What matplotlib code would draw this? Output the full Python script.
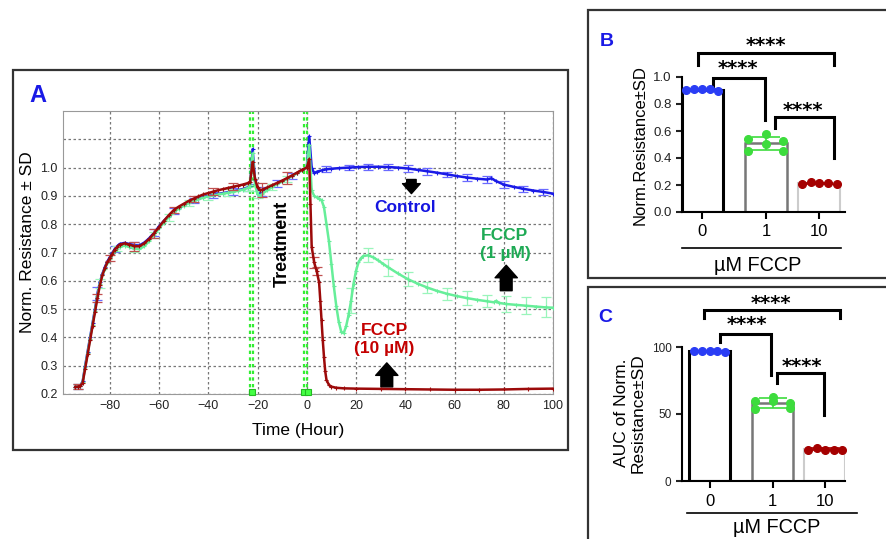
import matplotlib
matplotlib.use("Agg")
import matplotlib.pyplot as plt
import numpy as np
from matplotlib.patches import Rectangle
from matplotlib.lines import Line2D

plt.rcParams['font.family'] = ['Liberation Sans', 'DejaVu Sans']

# ---------------- data: panel A (normalised resistance vs time) ----------------
pre_t = [-94, -93, -92, -91, -90, -89, -88, -87, -86, -85, -84, -83, -82, -81, -80, -79, -78, -77, -76,
         -74, -72, -70, -68, -66, -64, -62, -60, -58, -56, -54, -52, -50, -48, -46, -44, -42, -40, -38,
         -36, -34, -32, -30, -28, -26, -24,
         -23, -22, -21, -20, -19, -18,
         -16, -14, -12, -10, -8, -6, -4, -2, 0]

pre_10um = [.225, .226, .228, .24, .29, .34, .39, .44, .49, .54, .585, .62, .645, .665, .68, .695, .71, .72, .728,
            .732, .728, .722, .722, .732, .748, .768, .79, .812, .832, .85, .862, .872, .882, .89, .898, .905, .91, .915,
            .92, .924, .928, .932, .936, .94, .945,
            .95, 1.02, .96, .93, .92, .922,
            .93, .938, .946, .954, .963, .972, .982, .992, 1.0]

pre_ctrl = [.225, .226, .229, .245, .3, .35, .4, .45, .5, .555, .595, .625, .648, .668, .683, .698, .712, .722, .73,
            .734, .73, .726, .725, .735, .75, .77, .792, .812, .83, .846, .858, .868, .877, .884, .89, .896, .9, .904,
            .907, .91, .913, .916, .92, .924, .93,
            .935, 1.065, .955, .92, .91, .915,
            .925, .935, .944, .952, .961, .971, .981, .991, 1.0]

pre_1um = [.225, .226, .228, .242, .295, .345, .395, .445, .495, .548, .59, .62, .643, .662, .677, .692, .705, .714, .72,
           .724, .72, .714, .712, .722, .74, .762, .785, .806, .825, .842, .855, .865, .874, .882, .888, .894, .898, .902,
           .905, .908, .911, .914, .918, .922, .928,
           .932, 1.05, .94, .905, .9, .908,
           .92, .932, .942, .951, .96, .97, .98, .99, 1.0]

ctrl_post_t = [1, 2, 3, 4, 6, 8, 10, 13, 17, 21, 25, 29, 33, 37, 41, 45, 49, 53, 57, 61, 65, 69, 73,
               75, 77, 80, 84, 88, 92, 96, 100]
ctrl_post = [1.11, 1.0, .98, .985, .99, .994, .996, .998, 1.0, 1.002, 1.003, 1.003, 1.002, 1.0, .997, .992, .987,
             .982, .976, .97, .965, .961, .958, .962, .952, .94, .932, .925, .919, .914, .908]

um1_post_t = [1, 2, 3, 4, 5, 6, 7, 8, 9, 10, 11, 12, 13, 14, 15, 16, 17, 18, 19, 20, 21, 22, 23,
              25, 27, 29, 31, 33, 37, 41, 45, 49, 53, 57, 61, 65, 69, 73, 76, 77, 78, 81, 85, 89, 93, 97, 100]
um1_post = [1.08, .92, .9, .895, .89, .885, .86, .8, .74, .66, .58, .51, .455, .42, .415, .44, .48, .53, .59,
            .635, .665, .68, .688, .69, .683, .672, .66, .648, .626, .606, .59, .576, .564, .554, .546, .539,
            .533, .528, .524, .529, .522, .518, .515, .512, .509, .506, .505]

um10_post_t = [1, 1.5, 2, 3, 4, 5, 5.5, 6, 6.5, 7, 7.5, 8, 9, 10, 12, 15, 20, 30, 40, 50, 60, 70, 80, 90, 100]
um10_post = [1.03, .87, .72, .665, .635, .595, .53, .46, .39, .33, .28, .25, .232, .226, .222, .22, .219, .218,
             .217, .216, .215, .215, .216, .218, .219]

# error bars (time, SD) - drawn on the curve point at that time
ctrl_eb_t = [-93, -85, -78, -70, -62, -54, -46, -38, -30, -24, -18, -12, -6, 8, 17, 25, 33, 41, 49, 57, 65, 73, 80, 88, 96]
ctrl_eb_sd = [.008, .022, .01, .01, .012, .01, .01, .01, .012, .012, .015, .012, .01,
              .01, .01, .01, .012, .012, .012, .01, .012, .012, .012, .01, .012]
um1_eb_t = [-93, -84, -77, -70, -62, -56, -48, -40, -32, -24, -20, -14, -8, 18, 25, 33, 41, 49, 57, 65, 73, 81, 89, 97]
um1_eb_sd = [.008, .015, .01, .012, .012, .012, .01, .012, .012, .01, .012, .01, .01,
             .045, .025, .03, .025, .02, .022, .025, .022, .028, .03, .035]
um10_eb_t = [-93, -85, -80, -70, -62, -54, -46, -38, -30, -18, -8, 3, 4]
um10_eb_sd = [.008, .015, .01, .015, .015, .012, .01, .012, .012, .025, .02, .02, .015]

vlines_t = [-23, -21.8, -1.2, 0.1]
marks_t = [-22.4, -1.3, 0.6]

# ---------------- data: panels B and C ----------------
doses = ['0', '1', '10']
b_ctrl = [0.905, 0.91, 0.91, 0.91, 0.895]
b_1um = [0.538, 0.454, 0.575, 0.504, 0.526, 0.454]
b_10um = [0.21, 0.22, 0.215, 0.215, 0.21]
c_ctrl = [96.8, 97, 97, 97, 96]
c_1um = [59.9, 53.7, 59.7, 62.9, 54.2, 58]
c_10um = [23.5, 24.8, 23.5, 23.3, 23]
stars = '****'

# ---------------- layout ----------------
W, H = 887, 539
fig = plt.figure(figsize=(W / 100, H / 100), dpi=100)


def px_axes(l, t, r, b):
    return fig.add_axes([l / W, 1 - b / H, (r - l) / W, (b - t) / H])


def frame_lines(xs, ys):
    fig.add_artist(Line2D([x / W for x in xs], [1 - y / H for y in ys], transform=fig.transFigure,
                          color='#333333', lw=1.6, solid_joinstyle='miter'))


fig.patches.append(Rectangle((13 / W, 1 - 450 / H), 555 / W, 380 / H, transform=fig.transFigure,
                             fill=False, ec='#333333', lw=1.6))
# B and C boxes run off the right/bottom edge of the figure
frame_lines([887, 588, 588, 887], [10, 10, 278, 278])
frame_lines([887, 588, 588], [287, 287, 539])

ctrl_c, um1_c, um10_c = '#1a1ae6', '#66ee99', '#9c0a0a'
ctrl_e, um1_e, um10_e = '#6a6aff', '#9af5bb', '#c05050'

# ---------------- panel A ----------------
ax = px_axes(63, 111, 553, 394)
ax.set_xlim(-99, 100)
ax.set_ylim(0.2, 1.2)
ax.set_xticks(range(-80, 101, 20))
ax.set_xticklabels([str(v).replace('-', '\u2212') for v in range(-80, 101, 20)], fontsize=9)
yt = [0.2, 0.3, 0.4, 0.5, 0.6, 0.7, 0.8, 0.9, 1.0, 1.1]
ax.set_yticks(yt)
ax.set_yticklabels(['%.1f' % v for v in yt[:-1]] + [''], fontsize=9)
ax.tick_params(length=0, pad=4, colors='#222222')
ax.grid(True, color='#777777', ls=(0, (2, 2)), lw=0.9)
for s in ax.spines.values():
    s.set_color('#999999')

for vx in vlines_t:
    ax.axvline(vx, color='#33ee33', ls=(0, (1.5, 1.5)), lw=1.6, zorder=2)
ax.plot(marks_t, [0.207] * len(marks_t), 's', ms=5, mfc='#44ff44', mec='#22bb22', mew=0.8, zorder=3, clip_on=False)

series = [
    (pre_t + ctrl_post_t, pre_ctrl + ctrl_post, ctrl_eb_t, ctrl_eb_sd, ctrl_c, ctrl_e),
    (pre_t + um1_post_t, pre_1um + um1_post, um1_eb_t, um1_eb_sd, um1_c, um1_e),
    (pre_t + um10_post_t, pre_10um + um10_post, um10_eb_t, um10_eb_sd, um10_c, um10_e),
]
z = 4
for t, y, ebt, ebsd, c, ce in series:
    ey = [y[t.index(tt)] for tt in ebt]
    ax.errorbar(ebt, ey, yerr=ebsd, fmt='none', ecolor=ce, elinewidth=0.9, capsize=3.5, capthick=0.9, zorder=z)
    ax.plot(t, y, '-', color=c, lw=1.8, marker='+', ms=3, mew=0.8, zorder=z + 1)
    z += 2

ax.text(-10, 0.73, 'Treatment', rotation=90, fontsize=13, fontweight='bold', ha='center', va='center')
ax.text(40, 0.86, 'Control', color='#1515e0', fontsize=12.5, fontweight='bold', ha='center', va='center')
ax.text(80.5, 0.728, 'FCCP\n(1 \u00b5M)', color='#1faa55', fontsize=12.5, fontweight='bold', ha='center', va='center')
ax.text(31.5, 0.393, 'FCCP\n(10 \u00b5M)', color='#c40000', fontsize=12.5, fontweight='bold', ha='center', va='center')

arrow = 'simple,head_length=0.9,head_width=1.6,tail_width=0.85'
ax.annotate('', xy=(42.5, 0.908), xytext=(42.5, 0.958),
            arrowprops=dict(arrowstyle=arrow, mutation_scale=8, fc='black', ec='black', shrinkA=0, shrinkB=0))
ax.annotate('', xy=(81, 0.655), xytext=(81, 0.565),
            arrowprops=dict(arrowstyle=arrow, mutation_scale=10, fc='black', ec='black', shrinkA=0, shrinkB=0))
ax.annotate('', xy=(32.5, 0.31), xytext=(32.5, 0.225),
            arrowprops=dict(arrowstyle=arrow, mutation_scale=10, fc='black', ec='black', shrinkA=0, shrinkB=0))

fig.text(28 / W, 1 - 242 / H, 'Norm. Resistance \u00b1 SD', rotation=90, fontsize=12.5, ha='center', va='center')
fig.text(298 / W, 1 - 430 / H, 'Time (Hour)', fontsize=12.5, ha='center', va='center')
fig.text(38 / W, 1 - 95 / H, 'A', color='#1a1ae6', fontsize=17, fontweight='bold', ha='center', va='center')


# ---------------- panels B and C ----------------
bar_x = [0, 1, 1.83]
jit_ctrl = [-0.25, -0.125, 0, 0.125, 0.25]
jit_1um = [-0.28, -0.28, 0.0, 0.0, 0.27, 0.27]
jit_10um = [-0.26, -0.13, 0, 0.14, 0.28]


def bracket(a, x1, x2, y, y1, y2, sx, sy):
    a.plot([x1, x1, x2, x2], [y1, y, y, y2], color='black', lw=2.2, clip_on=False, solid_joinstyle='miter')
    a.text(sx, sy, stars, family='DejaVu Sans', fontweight='bold', fontsize=14, ha='center', va='baseline')


def dot_panel(a, ctrl, um1, um10, tick_fs):
    groups = [ctrl, um1, um10]
    means = [np.mean(g) for g in groups]
    sds = [np.std(g, ddof=1) for g in groups]
    a.bar(bar_x, means, width=0.65, color='white', edgecolor=['black', '#777777', '#cccccc'],
          linewidth=[2.2, 1.8, 1.5], zorder=1)
    cols = ['#2a3df5', '#3ddc3d', '#a50000']
    for i, (g, jit) in enumerate(zip(groups, [jit_ctrl, jit_1um, jit_10um])):
        a.errorbar(bar_x[i], means[i], yerr=sds[i], fmt='none', ecolor=cols[i], elinewidth=1.2, capsize=10,
                   capthick=1.2, zorder=2)
        a.plot([bar_x[i] + j for j in jit], g, 'o', color=cols[i], ms=5.5, zorder=3, clip_on=False)
    a.set_xticks(bar_x)
    a.set_xticklabels(doses, fontsize=12)
    for s in ['top', 'right']:
        a.spines[s].set_visible(False)
    a.spines['left'].set_linewidth(1.5)
    a.spines['bottom'].set_linewidth(1.5)
    a.tick_params(axis='x', length=5, width=1.5, pad=4)
    a.tick_params(axis='y', length=4, width=1.5, labelsize=tick_fs, colors='#222222')


axB = px_axes(682, 77, 845, 212)
axB.set_xlim(-0.32, 2.24)
axB.set_ylim(0, 1.0)
axB.set_yticks([0, 0.2, 0.4, 0.6, 0.8, 1.0])
axB.set_yticklabels(['0.0', '0.2', '0.4', '0.6', '0.8', '1.0'])
dot_panel(axB, b_ctrl, b_1um, b_10um, 9.5)
bracket(axB, -0.07, 2.06, 1.18, 1.09, 1.09, 1.0, 1.19)
bracket(axB, 0.165, 0.98, 0.99, 0.93, 0.68, 0.56, 1.02)
bracket(axB, 1.14, 2.06, 0.70, 0.62, 0.40, 1.58, 0.71)
axB.plot([-0.32, 2.17], [-0.269, -0.269], color='black', lw=1.2, clip_on=False)
axB.text(0.87, -0.437, '\u00b5M FCCP', fontsize=14.3, ha='center', va='baseline')
fig.text(640 / W, 1 - 145 / H, 'Norm.Resistance\u00b1SD', rotation=90, fontsize=12, ha='center', va='center')
fig.text(607 / W, 1 - 42 / H, 'B', color='#1a1ae6', fontsize=14, fontweight='bold', ha='center', va='center')

axC = px_axes(682, 347, 845, 481)
axC.set_xlim(-0.437, 2.15)
axC.set_ylim(0, 100)
axC.set_yticks([0, 50, 100])
dot_panel(axC, c_ctrl, c_1um, c_10um, 8.5)
bracket(axC, -0.09, 2.07, 127.6, 121.6, 121.6, 0.98, 128.5)
bracket(axC, 0.17, 0.97, 110, 104, 79, 0.59, 112.5)
bracket(axC, 1.07, 1.81, 80.4, 73, 49, 1.46, 81.5)
axC.plot([-0.36, 2.34], [-24.1, -24.1], color='black', lw=1.2, clip_on=False)
axC.text(1.07, -39, '\u00b5M FCCP', fontsize=14.3, ha='center', va='baseline')
fig.text(630 / W, 1 - 413 / H, 'AUC of Norm.\nResistance\u00b1SD', rotation=90, fontsize=12.5, ha='center',
         va='center', linespacing=1.15)
fig.text(605 / W, 1 - 318 / H, 'C', color='#1a1ae6', fontsize=14, fontweight='bold', ha='center', va='center')

fig.savefig('out.png', dpi=100)
